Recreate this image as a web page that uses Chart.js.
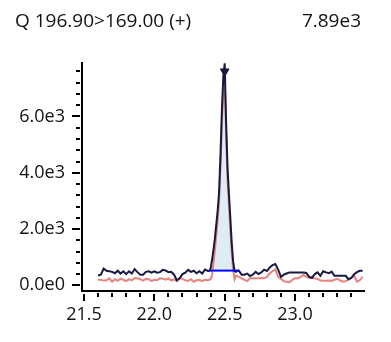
<!DOCTYPE html>
<html><head><meta charset="utf-8">
<script src="https://cdn.jsdelivr.net/npm/chart.js@4/dist/chart.umd.min.js"></script>
<style>html,body{margin:0;padding:0;background:#fff}#wrap{width:391px;height:342px}</style>
</head><body><div id="wrap"><canvas id="c" width="391" height="342"></canvas></div>
<script>
// ---- data ----
const times = [
 21.60,21.62,21.64,21.66,21.68,21.70,21.72,21.74,21.76,21.78,
 21.80,21.82,21.84,21.86,21.88,21.90,21.92,21.94,21.96,21.98,
 22.00,22.02,22.04,22.06,22.08,22.10,22.12,22.14,22.16,22.18,
 22.20,22.22,22.24,22.26,22.28,22.30,22.32,22.34,22.36,22.38,
 22.39,22.40,22.41,22.42,22.43,22.44,22.45,22.46,22.47,22.48,
 22.49,22.50,22.51,22.52,22.53,22.54,22.55,22.56,22.57,
 22.58,22.60,22.62,22.64,22.66,22.68,22.70,22.72,22.74,22.76,
 22.78,22.80,22.82,22.84,22.86,22.88,22.90,22.92,22.94,22.96,
 22.98,23.00,23.02,23.04,23.06,23.08,23.10,23.12,23.14,23.16,
 23.18,23.20,23.22,23.24,23.26,23.28,23.30,23.32,23.34,23.36,
 23.38,23.40,23.42,23.44,23.46,23.48
];
const quantIon = [
 350,380,600,520,500,480,430,520,420,500,
 400,500,420,580,470,380,380,480,500,450,
 500,450,470,550,530,470,480,380,180,250,
 400,450,550,480,520,430,500,420,560,510,
 520,600,900,1250,1650,2150,2650,3300,4600,6200,
 7400,7890,5800,4200,3250,2400,1500,850,520,
 480,530,380,380,420,330,380,480,400,460,
 560,510,640,720,760,560,300,380,420,460,
 460,460,460,460,460,440,300,270,400,460,
 340,500,460,430,490,340,340,340,340,340,
 220,260,400,470,520,520
];
const qualIon = [
 200,200,170,180,250,130,220,160,240,200,
 150,220,180,260,250,220,170,230,220,160,
 200,180,250,240,200,250,180,210,150,260,
 230,180,160,220,130,180,200,150,200,180,
 200,220,350,750,1250,1750,2300,3000,4200,5700,
 6900,7350,5400,3800,2900,2000,1200,550,220,
 350,300,250,200,150,250,250,250,250,260,
 250,300,420,500,570,300,230,150,120,110,
 200,250,250,300,370,300,260,280,250,230,
 170,160,160,170,160,200,230,180,130,150,
 200,270,340,130,180,300
];
const peakStart = 22.39;
const peakEnd = 22.60;
const peakBaseline = 525;
const apexTime = 22.50;
const apexMarker = 7600;
const yMajorTicks = [0, 2000, 4000, 6000];
const yMinorTicks = [400,800,1200,1600,2400,2800,3200,3600,4400,4800,5200,5600,6400,6800,7200,7600];
const xMajorTicks = [21.5, 22.0, 22.5, 23.0];
const xMinorTicks = [21.6,21.7,21.8,21.9,22.1,22.2,22.3,22.4,22.6,22.7,22.8,22.9,23.1,23.2,23.3,23.4];
const titleLeft = 'Q 196.90>169.00 (+)';
const titleRight = '7.89e3';

// ---- build ----
const FONT = '"Open Sans", "DejaVu Sans", sans-serif';
const quantPts = times.map((t, i) => ({x: t, y: quantIon[i]}));
const qualPts = times.map((t, i) => ({x: t, y: qualIon[i]}));
const areaPts = [{x: peakStart, y: peakBaseline}]
  .concat(times.map((t, i) => ({x: t, y: quantIon[i]}))
    .filter(p => p.x > peakStart && p.x < peakEnd)
    .map(p => ({x: p.x, y: Math.max(p.y, peakBaseline)})))
  .concat([{x: peakEnd, y: peakBaseline}]);

const decor = {
  id: 'decor',
  afterDraw(chart) {
    const c = chart.ctx, xs = chart.scales.x, ys = chart.scales.y;
    const ca = chart.chartArea;
    c.save();
    c.strokeStyle = '#000';
    c.lineWidth = 2;
    c.beginPath();
    yMajorTicks.forEach(v => { const p = Math.round(ys.getPixelForValue(v)); c.moveTo(ca.left - 10, p); c.lineTo(ca.left - 2, p); });
    yMinorTicks.forEach(v => { const p = Math.round(ys.getPixelForValue(v)); c.moveTo(ca.left - 6, p); c.lineTo(ca.left - 2, p); });
    xMajorTicks.forEach(v => { const p = Math.round(xs.getPixelForValue(v)); c.moveTo(p, ca.bottom + 3); c.lineTo(p, ca.bottom + 10); });
    xMinorTicks.forEach(v => { const p = Math.round(xs.getPixelForValue(v)); c.moveTo(p, ca.bottom + 2); c.lineTo(p, ca.bottom + 6); });
    c.stroke();
    c.fillStyle = '#111';
    c.font = '19px ' + FONT;
    c.textBaseline = 'alphabetic';
    c.textAlign = 'left';
    c.fillText(titleLeft, 15, 27);
    c.textAlign = 'right';
    c.fillText(titleRight, 361, 27);
    c.restore();
  }
};

new Chart(document.getElementById('c'), {
  type: 'line',
  data: {
    datasets: [
      {label: 'area', data: areaPts, fill: {value: peakBaseline}, backgroundColor: '#ddedf4', borderWidth: 0, pointRadius: 0, order: 5},
      {label: 'qualifier', data: qualPts, borderColor: '#e8827e', borderWidth: 2, pointRadius: 0, fill: false, order: 4},
      {label: 'quantifier', data: quantPts, borderColor: '#171a3e', borderWidth: 2, pointRadius: 0, fill: false, order: 3},
      {label: 'baseline', data: [{x: peakStart, y: peakBaseline}, {x: peakEnd, y: peakBaseline}], borderColor: '#0000ff', borderWidth: 2, pointRadius: 0, fill: false, order: 2},
      {label: 'apex', type: 'scatter', data: [{x: apexTime, y: apexMarker}], pointStyle: 'triangle', rotation: 180, pointRadius: 5, backgroundColor: '#171a3e', borderColor: '#171a3e', order: 1}
    ]
  },
  options: {
    responsive: false,
    animation: false,
    events: [],
    layout: {padding: {top: 63, right: 27, left: 0, bottom: 0}},
    plugins: {legend: {display: false}, tooltip: {enabled: false}, title: {display: false}},
    scales: {
      x: {
        type: 'linear', min: 21.486, max: 23.49,
        grid: {display: false, drawTicks: false},
        border: {display: true, color: '#000', width: 2},
        afterBuildTicks: s => { s.ticks = xMajorTicks.map(v => ({value: v})); },
        afterFit: s => { s.height = 51; },
        ticks: {autoSkip: false, maxRotation: 0, padding: 13, color: '#111', font: {family: FONT, size: 18},
          callback: v => Number(v).toFixed(1)}
      },
      y: {
        type: 'linear', min: -200, max: 7900,
        grid: {display: false, drawTicks: false},
        border: {display: true, color: '#000', width: 2},
        afterBuildTicks: s => { s.ticks = yMajorTicks.map(v => ({value: v})); },
        afterFit: s => { s.width = 82; },
        ticks: {autoSkip: false, padding: 17, color: '#111', font: {family: FONT, size: 18},
          callback: v => v === 0 ? '0.0e0' : (v / 1000).toFixed(1) + 'e3'}
      }
    }
  },
  plugins: [decor]
});
</script>
</body></html>
